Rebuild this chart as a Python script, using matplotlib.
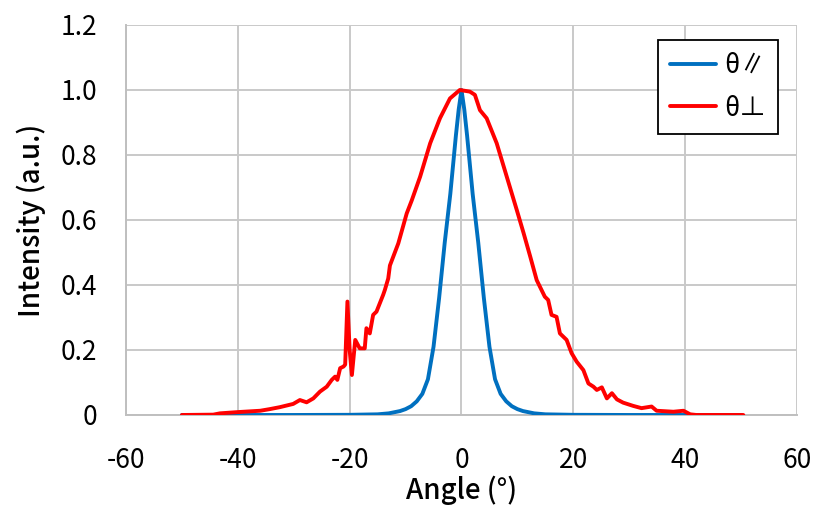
import matplotlib
matplotlib.use("Agg")
import matplotlib.pyplot as plt

plt.rcParams['font.family'] = ['Noto Sans CJK JP', 'DejaVu Sans']
plt.rcParams['axes.unicode_minus'] = False

# theta parallel (blue)
par_x = [-50, -30, -20, -15, -13, -11, -10, -9, -8, -7, -6, -5, -4, -3, -2, -1, -0.5, 0,
         0.5, 1, 2, 3, 4, 5, 6, 7, 8, 9, 10, 11, 13, 15, 20, 30, 50]
par_y = [0, 0, 0.0005, 0.002, 0.005, 0.012, 0.018, 0.027, 0.042, 0.065, 0.11, 0.21, 0.36,
         0.53, 0.68, 0.86, 0.94, 1.0, 0.94, 0.86, 0.68, 0.53, 0.36, 0.21, 0.11, 0.065, 0.042,
         0.027, 0.018, 0.012, 0.005, 0.002, 0.0005, 0, 0]

# theta perpendicular (red)
perp_x = [-50.0, -44.4, -43.2, -39.9, -36.0, -34.3, -32.5, -30.1, -28.9, -27.7, -26.5,
          -25.3, -24.1, -23.2, -22.6, -22.2, -21.7, -21.1, -20.8, -20.4, -20.0, -19.6,
          -19.0, -18.2, -17.3, -17.0, -16.4, -15.8, -15.2, -14.6, -14.0, -13.7, -13.1,
          -12.8, -11.3, -9.8, -8.9, -7.4, -5.6, -3.85, -2.06, -0.3, 1.5, 2.4, 3.3, 4.5,
          6.3, 8.1, 9.9, 11.1, 12.3, 13.45, 14.9, 15.5, 16.1, 17.0, 17.6, 18.8, 19.7,
          20.6, 21.8, 22.7, 23.6, 24.2, 25.1, 26.0, 26.9, 27.8, 28.9, 30.7, 32.2, 34.0,
          34.9, 37.9, 39.7, 40.9, 42.0, 50.4]
perp_y = [0, 0.001, 0.005, 0.009, 0.013, 0.018, 0.024, 0.034, 0.046, 0.039, 0.051,
          0.072, 0.087, 0.108, 0.118, 0.108, 0.144, 0.149, 0.155, 0.349, 0.2, 0.123,
          0.231, 0.205, 0.205, 0.267, 0.251, 0.308, 0.318, 0.344, 0.37, 0.385, 0.42,
          0.46, 0.528, 0.62, 0.66, 0.733, 0.836, 0.913, 0.974, 1.0, 0.995, 0.985, 0.938,
          0.913, 0.836, 0.733, 0.63, 0.56, 0.487, 0.415, 0.364, 0.354, 0.308, 0.302,
          0.251, 0.231, 0.19, 0.164, 0.138, 0.097, 0.087, 0.077, 0.085, 0.051, 0.067,
          0.048, 0.038, 0.028, 0.021, 0.026, 0.013, 0.010, 0.013, 0.002, 0, 0]

xticks = [-60, -40, -20, 0, 20, 40, 60]
yticks = [0, 0.2, 0.4, 0.6, 0.8, 1.0, 1.2]
ylabels = ["0", "0.2", "0.4", "0.6", "0.8", "1.0", "1.2"]

fig = plt.figure(figsize=(8.16, 5.07), dpi=100)
ax = fig.add_axes([0.1544, 0.1815, 0.8223, 0.7692])

ax.plot(par_x, par_y, color="#0070C0", lw=2.8, label="θ∥", solid_capstyle="round", zorder=3)
ax.plot(perp_x, perp_y, color="#FF0000", lw=2.8, label="θ⊥", solid_capstyle="round", zorder=4)

ax.set_xlim(-60, 60)
ax.set_ylim(0, 1.2)
ax.set_xticks(xticks)
ax.set_yticks(yticks)
ax.set_yticklabels(ylabels)
ax.tick_params(length=0, labelsize=19)
ax.tick_params(axis="y", pad=21)
ax.tick_params(axis="x", pad=23)
ax.grid(True, color="#C9C9C9", lw=1.4)
ax.set_axisbelow(True)
for s in ["top", "right"]:
    ax.spines[s].set_visible(False)
for s in ["left", "bottom"]:
    ax.spines[s].set_color("#BFBFBF")
    ax.spines[s].set_linewidth(1.4)

ax.set_xlabel("Angle (°)", fontsize=20, fontweight="medium", labelpad=1)
ax.set_ylabel("Intensity (a.u.)", fontsize=20, fontweight="medium", labelpad=10)

leg = ax.legend(loc="upper right", bbox_to_anchor=(0.9717, 0.9615), fontsize=19,
                fancybox=False, edgecolor="black", framealpha=1, handlelength=1.75,
                borderpad=0.45, labelspacing=0.6, handletextpad=0.3,
                borderaxespad=0)
leg.get_frame().set_linewidth(1.3)

plt.savefig("out.png", dpi=100)
